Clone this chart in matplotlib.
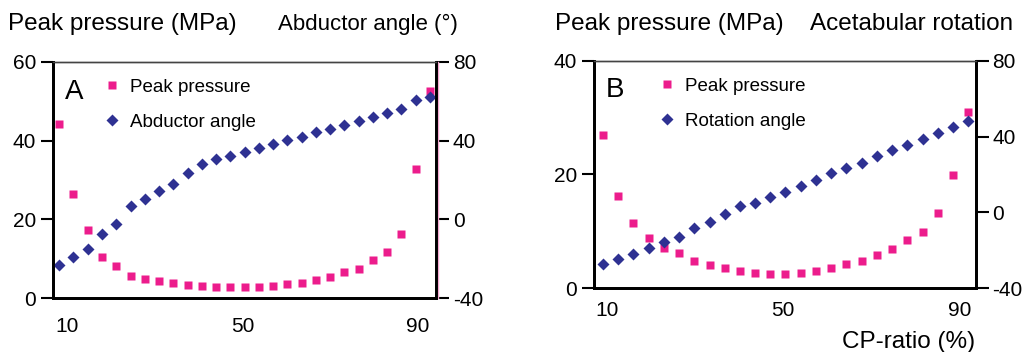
import matplotlib.pyplot as plt
import numpy as np

plt.rcParams['font.family'] = ['Liberation Sans', 'DejaVu Sans']
plt.rcParams['axes.unicode_minus'] = False

# panel A data (27 points)
cp_a = [8.2, 11.5, 14.7, 18.0, 21.2, 24.5, 27.7, 31.0, 34.2, 37.5, 40.7, 44.0, 47.2, 50.5,
        53.7, 57.0, 60.2, 63.5, 66.7, 70.0, 73.2, 76.5, 79.7, 83.0, 86.2, 89.5, 92.7]
pressure_a = [44.3, 26.4, 17.4, 10.3, 8.1, 5.6, 4.8, 4.3, 3.8, 3.2, 3.0, 2.8, 2.8, 2.8,
              2.8, 3.0, 3.5, 3.9, 4.7, 5.4, 6.5, 7.5, 9.7, 11.7, 16.2, 32.9, 52.6]
abductor_a = [-23.4, -19.3, -15.1, -7.3, -2.5, 6.8, 10.3, 14.4, 18.1, 23.7, 28.3, 30.5, 32.4, 34.1,
              36.1, 38.1, 40.5, 41.7, 44.2, 46.1, 48.0, 50.2, 52.2, 53.9, 56.1, 60.5, 62.2]

# panel B data (25 points)
cp_b = [9.1, 12.6, 16.0, 19.5, 22.9, 26.4, 29.8, 33.3, 36.7, 40.2, 43.6, 47.1, 50.5,
        54.0, 57.4, 60.9, 64.3, 67.8, 71.2, 74.7, 78.1, 81.6, 85.0, 88.5, 91.9]
pressure_b = [27.0, 16.2, 11.5, 8.8, 7.0, 6.2, 4.8, 4.1, 3.5, 3.0, 2.7, 2.4, 2.4,
              2.6, 3.0, 3.6, 4.2, 4.8, 5.8, 6.9, 8.4, 9.9, 13.3, 19.9, 31.0]
rotation_b = [-27.5, -24.8, -22.0, -18.9, -15.7, -13.2, -8.5, -4.9, -0.9, 3.2, 4.8, 8.3, 10.9,
              14.1, 17.3, 20.6, 23.4, 26.3, 29.8, 33.1, 35.4, 38.6, 41.8, 45.1, 48.1]

pink = '#EC1C8C'
navy = '#2E3192'

fig = plt.figure(figsize=(10.23, 3.52), dpi=100)


def panel(rect, cp, pres, ang, ylim, yticks, xlim, letter, lab2, xpad, legx):
    ax = fig.add_axes(rect)
    ax2 = ax.twinx()
    ax.plot(cp, pres, 's', color=pink, ms=6.3, mec='none', label='Peak pressure')
    ax2.plot(cp, ang, 'D', color=navy, ms=6, mec='none', label=lab2)
    ax.set_xlim(xlim)
    ax.set_ylim(ylim)
    ax.set_yticks(yticks)
    ax2.set_ylim(-40, 80)
    ax2.set_yticks([-40, 0, 40, 80])
    ax.set_xticks([10, 50, 90])
    ax.tick_params(axis='x', length=0, labelsize=15, pad=xpad)
    ax.tick_params(axis='y', length=9, width=1.5, labelsize=15, pad=3)
    ax2.tick_params(axis='y', length=9, width=1.5, labelsize=15, pad=3)
    for a in (ax, ax2):
        for s in ('left', 'bottom', 'right'):
            a.spines[s].set_linewidth(2)
        a.spines['top'].set_linewidth(1)
        a.spines['top'].set_color('#444444')
    ax.text(0.03, 0.93, letter, transform=ax.transAxes, fontsize=20, va='top', ha='left')
    h1, l1 = ax.get_legend_handles_labels()
    h2, l2 = ax2.get_legend_handles_labels()
    ax2.legend(h1 + h2, l1 + l2, loc='upper left', bbox_to_anchor=(legx, 1.0), frameon=False,
               fontsize=13.5, handletextpad=0.2, labelspacing=0.95, handlelength=1.5)
    return ax, ax2


axA, axA2 = panel([0.0518, 0.1534, 0.3744, 0.6705], cp_a, pressure_a, abductor_a,
                  (0, 60), [0, 20, 40, 60], (6.83, 94.07), 'A', 'Abductor angle', 14, 0.073)
axB, axB2 = panel([0.5806, 0.1818, 0.3734, 0.645], cp_b, pressure_b, rotation_b,
                  (0, 40), [0, 20, 40], (7.06, 93.7), 'B', 'Rotation angle', 9, 0.11)

# thin pink line beside the right axis of panel A
axA2.plot([1.006, 1.006], [0, 1], color='#F4A6CF', lw=1, transform=axA2.transAxes, clip_on=False)

fig.text(0.008, 0.915, 'Peak pressure (MPa)', fontsize=17.5, ha='left', va='baseline')
fig.text(0.272, 0.915, 'Abductor angle (°)', fontsize=16, ha='left', va='baseline')
fig.text(0.543, 0.915, 'Peak pressure (MPa)', fontsize=17.5, ha='left', va='baseline')
fig.text(0.792, 0.915, 'Acetabular rotation', fontsize=17.5, ha='left', va='baseline')
fig.text(0.953, 0.01, 'CP-ratio (%)', fontsize=17.5, ha='right', va='baseline')

fig.savefig('out.png', dpi=100)
